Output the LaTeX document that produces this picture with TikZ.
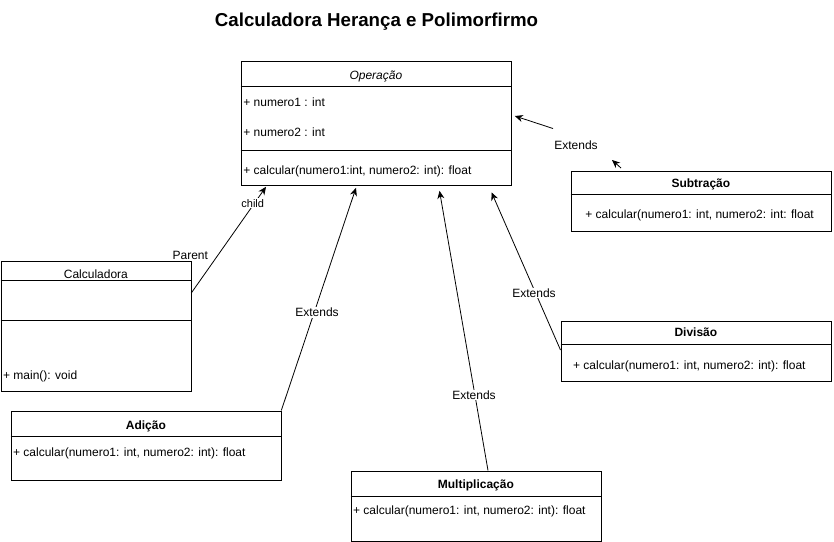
\documentclass[tikz,border=0pt]{standalone}
\usepackage{fontspec}
\setmainfont{Liberation Sans}
\usetikzlibrary{arrows.meta,positioning,calc}

\begin{document}
\begin{tikzpicture}[
  x=1pt,
  y=-1pt,
  line width=0.8pt,
  myclass/.style={
    draw,
    anchor=north west,
    inner sep=0pt,
    minimum width=#1
    },
  mytitle/.style={
    anchor=base,
    inner sep=0pt,
    font=\fontsize{12}{14}\selectfont\bfseries
    },
  mytext/.style={
    anchor=base west,
    inner sep=0pt,
    font=\fontsize{12}{14}\selectfont
    },
  mylabel/.style={
    fill=white,
    anchor=base,
    inner sep=1pt,
    font=\fontsize{12}{14}\selectfont
    },
  myarrow/.style={
    -{Stealth[length=8pt,width=7pt,inset=2.5pt]}
    }
]
\useasboundingbox (0,0) rectangle (834,541);

\node[anchor=base, inner sep=0pt, font=\fontsize{18.7}{22}\selectfont\bfseries]
  (title) at (376.5,26.7) {Calculadora Herança e Polimorfirmo};

% classes
\node[myclass=270pt, minimum height=124pt] (oper) at (240.5,60.5) {};
\node[myclass=190pt, minimum height=130pt] (calc) at (0.5,260.5) {};
\node[myclass=270pt, minimum height=69pt]  (adic) at (10.5,410.5) {};
\node[myclass=250pt, minimum height=70pt]  (mult) at (350.5,470.5) {};
\node[myclass=270pt, minimum height=60pt]  (divi) at (560.5,320.5) {};
\node[myclass=260pt, minimum height=60pt]  (subt) at (570.5,170.5) {};

\foreach \Cls/\Hd in {oper/26, oper/90, calc/20, calc/60, adic/25.5, mult/26, divi/24, subt/24}
  \draw ($(\Cls.north west)+(0,\Hd)$) -- ($(\Cls.north east)+(0,\Hd)$);

\node[mytitle, font=\fontsize{12}{14}\selectfont\itshape] (oper-name) at ($(oper.north)+(0,19)$) {Operação};
\node[mytext] (oper-n1) at ($(oper.north west)+(2.5,46.2)$) {+ numero1 : int};
\node[mytext] (oper-n2) at ($(oper.north west)+(2.5,75.5)$) {+ numero2 : int};
\node[mytext] (oper-m) at ($(oper.north west)+(2.5,113.5)$) {+ calcular(numero1:int, numero2: int): float};

\node[mytitle] (calc-name) at ($(calc.north)+(0,17.8)$) {\mdseries Calculadora};
\node[mytext] (calc-m) at ($(calc.north west)+(2.2,118.5)$) {+ main(): void};

\node[mytitle] (adic-name) at ($(adic.north)+(0,18.8)$) {Adição};
\node[mytext] (adic-m) at ($(adic.north west)+(2.2,45.5)$) {+ calcular(numero1: int, numero2: int): float};

\node[mytitle] (mult-name) at ($(mult.north)+(0,17.8)$) {Multiplicação};
\node[mytext] (mult-m) at ($(mult.north west)+(2.2,43.8)$) {+ calcular(numero1: int, numero2: int): float};

\node[mytitle] (divi-name) at ($(divi.north)+(0,16.2)$) {Divisão};
\node[mytext] (divi-m) at ($(divi.north west)+(12.2,48.8)$) {+ calcular(numero1: int, numero2: int): float};

\node[mytitle] (subt-name) at ($(subt.north)+(0,16.8)$) {Subtração};
\node[mytext] (subt-m) at ($(subt.north west)+(14.5,47.8)$) {+ calcular(numero1: int, numero2: int: float};

% connector ends
\coordinate (calc-out) at ($(calc.north east)+(0,32.5)$);
\coordinate (oper-in1) at ($(oper.south west)+(25.5,1.5)$);
\coordinate (oper-in2) at ($(oper.south west)+(115.5,2.5)$);
\coordinate (oper-in3) at ($(oper.south west)+(199,5.5)$);
\coordinate (oper-in4) at ($(oper.south west)+(251,7)$);
\coordinate (oper-in5) at ($(oper.north east)+(3.5,55.5)$);
\coordinate (mult-out) at ($(mult.north west)+(137.5,0)$);
\coordinate (divi-out) at ($(divi.north west)+(0,29.5)$);
\coordinate (subt-mid) at (553,128.5);
\coordinate (subt-out) at ($(subt.north west)+(50.5,-2.5)$);

\draw[myarrow] (calc-out) -- (oper-in1);
\draw[myarrow] (adic.north east) -- (oper-in2);
\draw[myarrow] (mult-out) -- (oper-in3);
\draw[myarrow] (divi-out) -- (oper-in4);
\draw[myarrow] (subt-mid) -- (oper-in5);
\draw[myarrow] (subt-out) -- ++(-9,-8);

% labels
\node[mylabel, font=\fontsize{11}{13}\selectfont] (lbl-child) at (252.7,207.3) {child};
\node[mylabel] (lbl-parent) at (190.3,259) {Parent};
\node[mylabel] (lbl-adic) at (317,316.7) {Extends};
\node[mylabel] (lbl-mult) at (474,399.3) {Extends};
\node[mylabel] (lbl-divi) at (534,297.3) {Extends};
\node[mylabel] (lbl-subt) at (576,149) {Extends};

\end{tikzpicture}
\end{document}
